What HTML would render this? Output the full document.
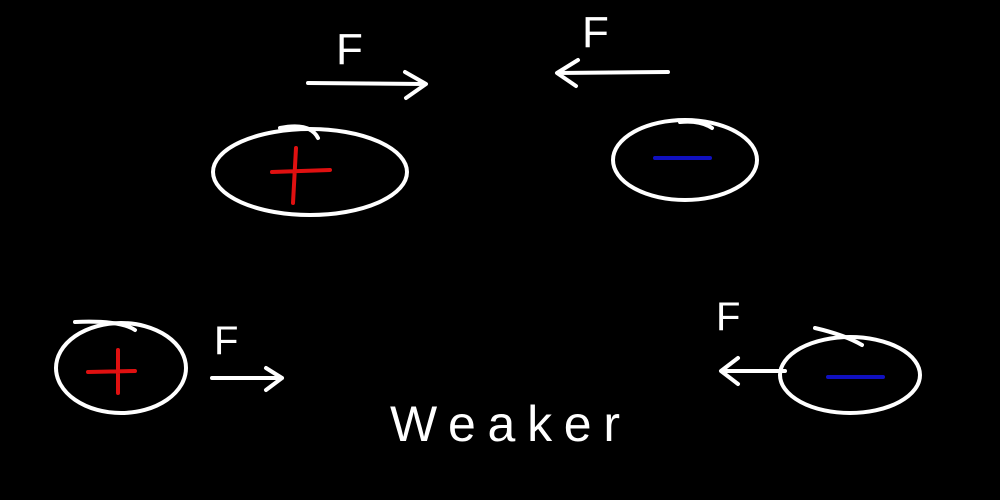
<!DOCTYPE html>
<html><head><style>html,body{margin:0;padding:0;background:#000;width:1000px;height:500px;overflow:hidden}</style></head>
<body>
<svg width="1000" height="500" viewBox="0 0 1000 500" xmlns="http://www.w3.org/2000/svg">
<rect width="1000" height="500" fill="#000"/>
<g fill="none" stroke="#fff" stroke-width="4" stroke-linecap="round" stroke-linejoin="round">
  <ellipse cx="310" cy="172" rx="97" ry="43"/>
  <path d="M280 128 Q310 122 318 138"/>
  <ellipse cx="685" cy="160" rx="72" ry="40"/>
  <path d="M680 122 Q700 120 712 128"/>
  <ellipse cx="121" cy="368" rx="65" ry="45"/>
  <path d="M75 322 Q120 320 135 330"/>
  <ellipse cx="850" cy="375" rx="70" ry="38"/>
  <path d="M815 328 Q845 335 862 345"/>
  <path d="M308 83 L425 84 M405 72 L426 84 L406 98"/>
  <path d="M668 72 L558 73 M578 60 L557 73 L576 86"/>
  <path d="M212 378 L282 378 M266 368 L282 378 L266 390"/>
  <path d="M785 371 L722 371 M738 358 L721 371 L738 384"/>
</g>
<g stroke="#e01010" stroke-width="4" stroke-linecap="round" fill="none">
  <path d="M272 172 L330 170 M296 148 L293 203"/>
  <path d="M88 372 L135 371 M118 350 L118 393"/>
</g>
<g stroke="#1010c0" stroke-width="4" stroke-linecap="round" fill="none">
  <path d="M655 158 L710 158"/>
  <path d="M828 377 L883 377"/>
</g>
<g fill="#fff" font-family="Liberation Sans, sans-serif">
  <text x="336" y="64" font-size="44">F</text>
  <text x="582" y="47" font-size="44">F</text>
  <text x="214" y="354" font-size="40">F</text>
  <text x="716" y="330" font-size="40">F</text>
  <text x="390" y="441" font-size="50" textLength="230" lengthAdjust="spacing">Weaker</text>
</g>
</svg>
</body></html>
